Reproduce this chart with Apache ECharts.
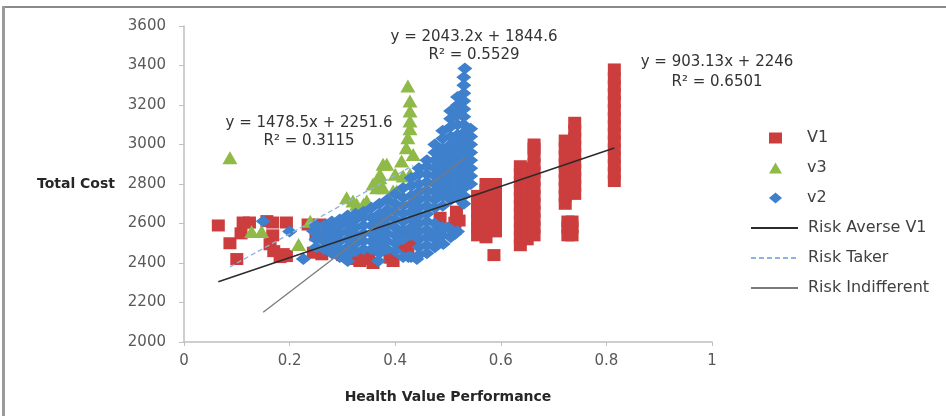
<!DOCTYPE html>
<html><head><meta charset="utf-8">
<script src="https://cdn.jsdelivr.net/npm/echarts@6/dist/echarts.min.js"></script>
<style>html,body{margin:0;padding:0;background:#fff}#c{width:946px;height:416px}</style>
</head><body><div id="c"></div><script>
const xAxisTitle = 'Health Value Performance';
const yAxisTitle = 'Total Cost';
const seriesNames = ['V1', 'v3', 'v2'];
const trendNames = ['Risk Averse V1', 'Risk Taker', 'Risk Indifferent'];

const v1Points = [
  [0.065,2590],[0.087,2500],[0.100,2420],[0.108,2550],[0.112,2605],[0.124,2605],[0.157,2612],[0.168,2605],
  [0.168,2540],[0.163,2495],[0.170,2460],[0.182,2430],[0.194,2435],[0.194,2605],[0.188,2445],[0.235,2595],
  [0.258,2595],[0.245,2452],[0.261,2444],[0.250,2540],[0.264,2560],
  [0.300,2440],[0.308,2612],[0.314,2572],[0.318,2420],[0.333,2410],[0.339,2440],[0.350,2420],[0.358,2400],
  [0.335,2660],[0.390,2427],[0.396,2410],[0.415,2480],[0.424,2450],[0.431,2503],[0.415,2546],
  [0.485,2629],[0.516,2660],[0.513,2604],[0.521,2615],
  [0.556,2540],[0.556,2580],[0.556,2620],[0.556,2660],[0.556,2700],[0.556,2740],
  [0.572,2530],[0.572,2570],[0.572,2610],[0.572,2650],[0.572,2690],[0.572,2730],[0.572,2770],[0.572,2800],
  [0.590,2560],[0.590,2600],[0.590,2640],[0.590,2680],[0.590,2720],[0.590,2760],[0.590,2800],
  [0.587,2440],
  [0.637,2490],[0.637,2530],[0.637,2570],[0.637,2610],[0.637,2650],[0.637,2690],[0.637,2730],[0.637,2770],
  [0.637,2810],[0.637,2850],[0.637,2890],
  [0.650,2520],[0.650,2560],[0.650,2600],[0.650,2640],[0.650,2680],[0.650,2720],[0.650,2760],[0.650,2800],
  [0.650,2840],[0.650,2880],
  [0.663,2540],[0.663,2580],[0.663,2620],[0.663,2660],[0.663,2700],[0.663,2740],[0.663,2780],[0.663,2820],
  [0.663,2860],[0.663,2900],[0.663,2940],[0.663,2980],[0.663,3000],
  [0.722,2700],[0.722,2740],[0.722,2780],[0.722,2820],[0.722,2860],[0.722,2900],[0.722,2940],[0.722,2980],
  [0.722,3020],[0.727,2540],[0.727,2580],[0.727,2610],
  [0.740,2750],[0.740,2790],[0.740,2830],[0.740,2870],[0.740,2910],[0.740,2950],[0.740,2990],[0.740,3030],
  [0.740,3070],[0.740,3110],[0.735,2540],[0.735,2580],[0.735,2610],
  [0.815,2815],[0.815,2855],[0.815,2895],[0.815,2935],[0.815,2975],[0.815,3015],[0.815,3055],[0.815,3095],
  [0.815,3135],[0.815,3175],[0.815,3215],[0.815,3255],[0.815,3295],[0.815,3335],[0.815,3380]
];

const v3Points = [
  [0.087,2933],[0.128,2560],[0.147,2560],[0.217,2494],[0.239,2612],[0.251,2578],[0.270,2528],[0.280,2486],
  [0.277,2578],[0.308,2730],[0.320,2714],[0.327,2698],[0.340,2698],[0.346,2714],[0.314,2587],[0.308,2578],
  [0.358,2800],[0.365,2781],[0.371,2800],[0.371,2832],[0.371,2850],[0.377,2900],[0.384,2900],[0.377,2781],
  [0.396,2765],[0.403,2765],[0.409,2765],[0.400,2850],[0.415,2840],[0.412,2916],[0.421,2984],[0.424,3034],
  [0.428,3080],[0.428,3119],[0.428,3170],[0.428,3220],[0.424,3296],[0.428,2849],[0.434,2950],[0.339,2680],
  [0.390,2700]
];

const v2Points = [
  [0.150,2612],[0.200,2560],[0.226,2420],[0.245,2562],[0.368,2410],[0.310,2410],[0.441,2420],[0.425,2430],
  [0.491,2496],[0.513,2547],[0.470,2540],[0.500,2580],
  [0.250,2480],[0.250,2520],[0.250,2560],[0.250,2590],
  [0.265,2470],[0.265,2510],[0.265,2550],[0.265,2590],
  [0.280,2450],[0.280,2490],[0.280,2530],[0.280,2570],[0.280,2610],
  [0.295,2430],[0.295,2470],[0.295,2510],[0.295,2550],[0.295,2590],[0.295,2620],
  [0.310,2440],[0.310,2480],[0.310,2520],[0.310,2560],[0.310,2600],[0.310,2640],
  [0.325,2460],[0.325,2500],[0.325,2540],[0.325,2580],[0.325,2620],[0.325,2650],
  [0.340,2470],[0.340,2510],[0.340,2550],[0.340,2590],[0.340,2630],[0.340,2660],
  [0.355,2470],[0.355,2510],[0.355,2550],[0.355,2590],[0.355,2630],[0.355,2680],
  [0.370,2450],[0.370,2490],[0.370,2530],[0.370,2570],[0.370,2610],[0.370,2650],[0.370,2700],
  [0.385,2470],[0.385,2510],[0.385,2550],[0.385,2590],[0.385,2630],[0.385,2670],[0.385,2720],
  [0.400,2460],[0.400,2500],[0.400,2540],[0.400,2580],[0.400,2620],[0.400,2660],[0.400,2700],[0.400,2750],
  [0.415,2430],[0.415,2520],[0.415,2570],[0.415,2610],[0.415,2650],[0.415,2690],[0.415,2730],[0.415,2780],
  [0.430,2430],[0.430,2540],[0.430,2580],[0.430,2620],[0.430,2660],[0.430,2700],[0.430,2740],[0.430,2790],[0.430,2830],
  [0.445,2440],[0.445,2480],[0.445,2520],[0.445,2560],[0.445,2600],[0.445,2640],[0.445,2680],[0.445,2720],
  [0.445,2760],[0.445,2800],[0.445,2850],[0.445,2880],
  [0.460,2450],[0.460,2490],[0.460,2530],[0.460,2570],[0.460,2610],[0.460,2650],[0.460,2690],[0.460,2730],
  [0.460,2770],[0.460,2810],[0.460,2850],[0.460,2890],[0.460,2920],
  [0.475,2480],[0.475,2520],[0.475,2560],[0.475,2600],[0.475,2680],[0.475,2720],[0.475,2760],[0.475,2800],
  [0.475,2840],[0.475,2880],[0.475,2920],[0.475,2960],[0.475,3000],
  [0.490,2540],[0.490,2580],[0.490,2690],[0.490,2740],[0.490,2780],[0.490,2820],[0.490,2860],[0.490,2900],
  [0.490,2940],[0.490,2980],[0.490,3030],[0.490,3070],
  [0.505,2530],[0.505,2570],[0.505,2720],[0.505,2760],[0.505,2800],[0.505,2840],[0.505,2880],[0.505,2920],
  [0.505,2960],[0.505,3000],[0.505,3040],[0.505,3090],[0.505,3130],[0.505,3170],
  [0.518,2560],[0.518,2730],[0.518,2770],[0.518,2810],[0.518,2850],[0.518,2890],[0.518,2930],[0.518,2970],
  [0.518,3010],[0.518,3050],[0.518,3100],[0.518,3150],[0.518,3200],[0.518,3240],
  [0.530,2700],[0.530,2740],[0.530,2780],[0.530,2820],[0.530,2860],[0.530,2900],[0.530,2940],[0.530,2980],
  [0.530,3020],[0.530,3060],[0.530,3100],[0.530,3140],[0.530,3180],[0.530,3220],[0.530,3260],[0.530,3300],
  [0.530,3340],[0.532,3385],
  [0.543,2800],[0.543,2840],[0.543,2880],[0.543,2920],[0.543,2960],[0.543,3000],[0.543,3040],[0.543,3080]
];

// trendline end points (Excel linear fits shown on the chart)
const riskAverse = [[0.065,2304.7],[0.815,2982.1]];
const riskTaker = [[0.087,2380.2],[0.434,2893.3]];
const riskIndifferent = [[0.150,2151.1],[0.532,2931.6]];

const eqLabels = [
  ['y = 2043.2x + 1844.6', 'R\u00b2 = 0.5529'],
  ['y = 903.13x + 2246', 'R\u00b2 = 0.6501'],
  ['y = 1478.5x + 2251.6', 'R\u00b2 = 0.3115']
];

const FONT = '"DejaVu Sans", sans-serif';
const RED = '#cc3d3d', GREEN = '#8fba48', BLUE = '#3f80cc';

const chart = echarts.init(document.getElementById('c'));
const eqPos = [[474,37,474,55],[717,62,717,82],[309,123,309,141]];
const graphics = [
  {type:'line', shape:{x1:2,y1:7,x2:946,y2:7}, style:{stroke:'#8a8a8a', lineWidth:2}},
  {type:'line', shape:{x1:3.5,y1:6,x2:3.5,y2:416}, style:{stroke:'#9a9a9a', lineWidth:3}}
];
eqLabels.forEach((pair, i) => {
  const p = eqPos[i];
  graphics.push({type:'text', x:p[0], y:p[1], style:{text:pair[0], align:'center', verticalAlign:'middle', font:'15px ' + FONT, fill:'#333'}});
  graphics.push({type:'text', x:p[2], y:p[3], style:{text:pair[1], align:'center', verticalAlign:'middle', font:'15px ' + FONT, fill:'#333'}});
});

chart.setOption({
  animation: false,
  backgroundColor: '#fff',
  textStyle: {fontFamily: FONT},
  grid: {left:184, right:234, top:26, bottom:74},
  xAxis: {
    type:'value', min:0, max:1, interval:0.2,
    name: xAxisTitle, nameLocation:'middle', nameGap:48,
    nameTextStyle:{fontFamily:FONT, fontSize:14, fontWeight:'bold', color:'#262626'},
    axisLine:{show:true, lineStyle:{color:'#bfbfbf', width:1.5}},
    axisTick:{show:true, length:4, lineStyle:{color:'#bfbfbf'}},
    axisLabel:{fontFamily:FONT, fontSize:15, color:'#595959', margin:12, formatter: v => String(+v.toFixed(2))},
    splitLine:{show:false}
  },
  yAxis: {
    type:'value', min:2000, max:3600, interval:200,
    name: yAxisTitle, nameLocation:'middle', nameRotate:0, nameGap:69,
    nameTextStyle:{fontFamily:FONT, fontSize:14, fontWeight:'bold', color:'#262626'},
    axisLine:{show:true, lineStyle:{color:'#bfbfbf', width:1.5}},
    axisTick:{show:true, length:5, lineStyle:{color:'#bfbfbf'}},
    axisLabel:{fontFamily:FONT, fontSize:15, color:'#595959', margin:18, formatter: v => String(v)},
    splitLine:{show:false}
  },
  legend: [
    {
      data: seriesNames, orient:'vertical', left:764, top:125, itemWidth:13, itemHeight:11, itemGap:14,
      textStyle:{fontFamily:FONT, fontSize:16, color:'#404040', padding:[0,0,0,20]}
    },
    {
      data: trendNames, orient:'vertical', left:745, top:215, itemWidth:47, itemHeight:14, itemGap:14,
      itemStyle:{opacity:0, borderWidth:0},
      textStyle:{fontFamily:FONT, fontSize:16, color:'#404040', padding:[0,0,0,5]}
    }
  ],
  graphic: graphics,
  series: [
    {name:seriesNames[0], type:'scatter', symbol:'rect', symbolSize:[13,12], data:v1Points, itemStyle:{color:RED, opacity:1}, z:2},
    {name:seriesNames[1], type:'scatter', symbol:'triangle', symbolSize:[15,13], data:v3Points, itemStyle:{color:GREEN, opacity:1}, z:3},
    {name:seriesNames[2], type:'scatter', symbol:'diamond', symbolSize:[15,12], data:v2Points, itemStyle:{color:BLUE, opacity:1}, z:4},
    {name:trendNames[0], type:'line', data:riskAverse, symbol:'none', lineStyle:{color:'#2b2b2b', width:1.5}, itemStyle:{color:'#2b2b2b'}, z:6},
    {name:trendNames[1], type:'line', data:riskTaker, symbol:'none', lineStyle:{color:'#8fb3e0', width:1.3, type:[5,3]}, itemStyle:{color:'#8fb3e0'}, z:6},
    {name:trendNames[2], type:'line', data:riskIndifferent, symbol:'none', lineStyle:{color:'#7a7a7a', width:1.3}, itemStyle:{color:'#7a7a7a'}, z:6}
  ]
});
</script></body></html>
